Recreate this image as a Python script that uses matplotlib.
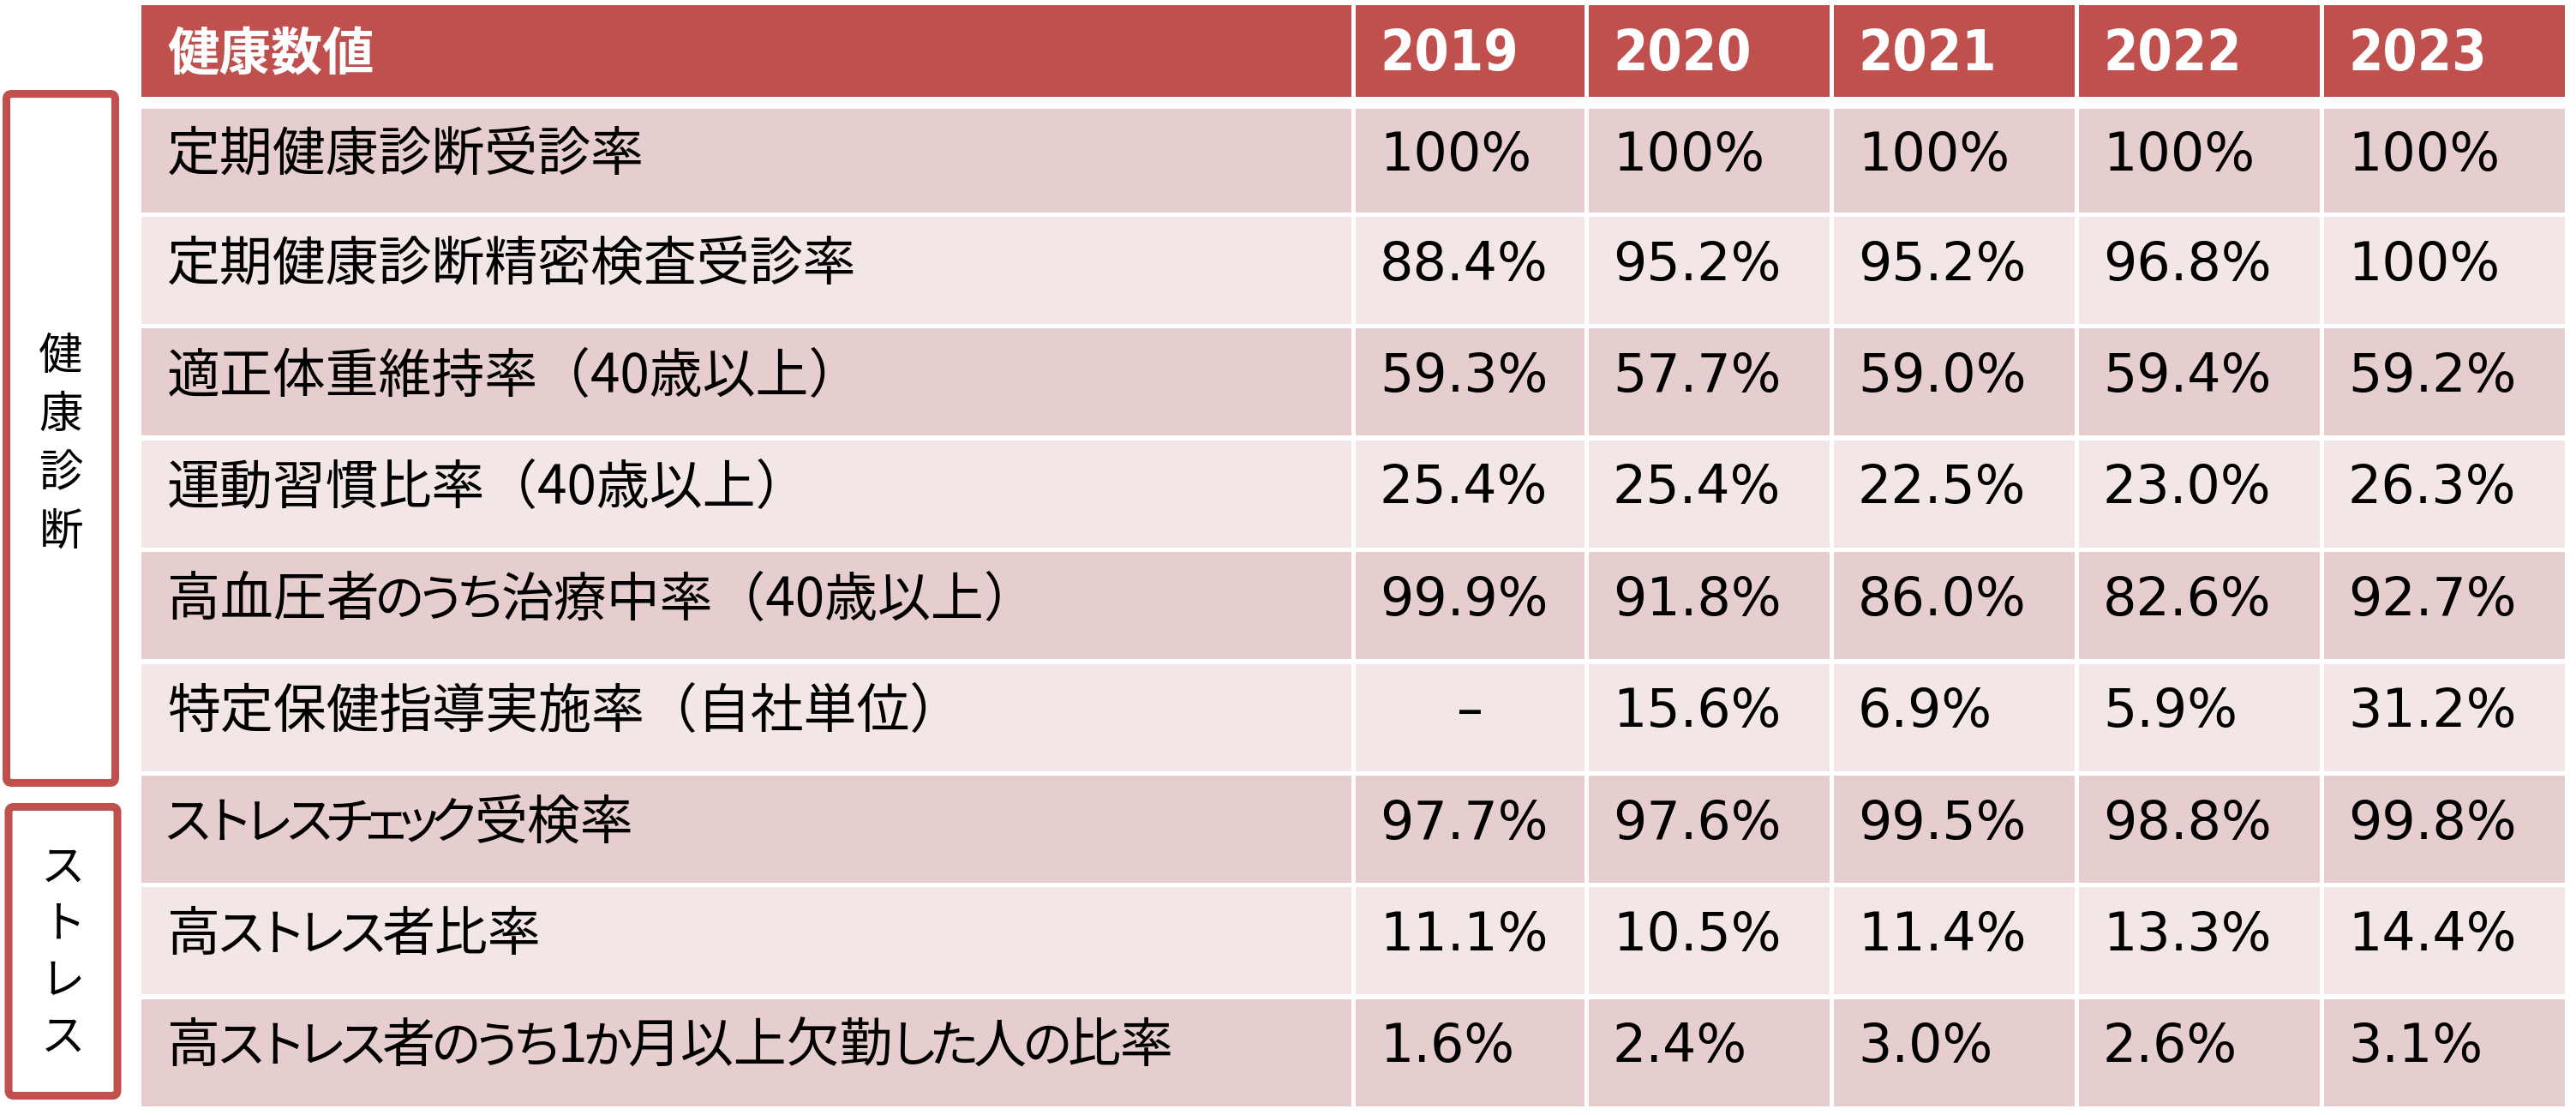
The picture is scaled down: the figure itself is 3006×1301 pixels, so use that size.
import matplotlib
matplotlib.use("Agg")
import matplotlib.pyplot as plt
from matplotlib.patches import Rectangle, FancyBboxPatch
from matplotlib.font_manager import FontProperties

# データ
header_label = "健康数値"
years = ["2019", "2020", "2021", "2022", "2023"]
items = [
    "定期健康診断受診率",
    "定期健康診断精密検査受診率",
    "適正体重維持率（40歳以上）",
    "運動習慣比率（40歳以上）",
    "高血圧者のうち治療中率（40歳以上）",
    "特定保健指導実施率（自社単位）",
    "ストレスチェック受検率",
    "高ストレス者比率",
    "高ストレス者のうち1か月以上欠勤した人の比率",
]
v2019 = [100, 88.4, 59.3, 25.4, 99.9, None, 97.7, 11.1, 1.6]
v2020 = [100, 95.2, 57.7, 25.4, 91.8, 15.6, 97.6, 10.5, 2.4]
v2021 = [100, 95.2, 59.0, 22.5, 86.0, 6.9, 99.5, 11.4, 3.0]
v2022 = [100, 96.8, 59.4, 23.0, 82.6, 5.9, 98.8, 13.3, 2.6]
v2023 = [100, 100, 59.2, 26.3, 92.7, 31.2, 99.8, 14.4, 3.1]
valores = [v2019, v2020, v2021, v2022, v2023]
grupos = [("健康診断", 0, 6), ("ストレス", 6, 9)]

ROJO = "#C0504D"
BANDA1 = "#E6CECE"
BANDA2 = "#F2E6E6"
JP = ["Noto Sans CJK JP", "DejaVu Sans"]
PEQ = "ぁぃぅぇぉっゃゅょァィゥェォッャュョ"


def fmt(v):
    if v is None:
        return "–"
    if v == 100:
        return "100%"
    return f"{v:.1f}%"


def es_kana(ch):
    return "\u3041" <= ch <= "\u30ff"


W, H = 3006, 1301
fig = plt.figure(figsize=(W / 100, H / 100), dpi=100)
ax = fig.add_axes([0, 0, 1, 1])
ax.set_xlim(0, W)
ax.set_ylim(H, 0)
ax.axis("off")
renderer = fig.canvas.get_renderer()

# columnas (px)
col_l = [165, 1582, 1854, 2140, 2426, 2712]
col_r = [1577, 1849, 2135, 2421, 2707, 2993]
row_top = [127] + [253 + i * 130.4 for i in range(8)]
row_h = [121] + [125] * 8
hdr_top, hdr_bot = 6, 113
fs = 44.6
prop_jp = FontProperties(family=JP, size=fs)
prop_kana = FontProperties(family=JP, size=fs * 0.95)
em = fs * 100 / 72


def texto_jp(x, y, s):
    # kana con espaciado proporcional, como en la tabla original
    trozo = ""
    for ch in s + "\0":
        if ch == "\0" or es_kana(ch):
            if trozo:
                ax.text(x, y, trozo, fontproperties=prop_jp, va="baseline", ha="left")
                w, _, _ = renderer.get_text_width_height_descent(trozo, prop_jp, ismath=False)
                x += w
                trozo = ""
            if ch == "\0":
                break
            adv = em * (0.6 if ch in PEQ else 0.765)
            ax.text(x + adv / 2, y, ch, fontproperties=prop_kana, va="baseline", ha="center")
            x += adv
        else:
            trozo += ch


# encabezado
for c in range(6):
    ax.add_patch(Rectangle((col_l[c], hdr_top), col_r[c] - col_l[c], hdr_bot - hdr_top,
                           facecolor=ROJO, edgecolor="none"))
ax.text(col_l[0] + 30, 82, header_label, color="white", fontsize=43.5, fontweight="bold",
        family=JP, va="baseline", ha="left")
for j, y in enumerate(years):
    ax.text(col_l[j + 1] + 28, 82, y, color="white", fontsize=46.5, fontweight="bold",
            family="DejaVu Sans", fontstretch="condensed", va="baseline", ha="left")

# filas
for i, item in enumerate(items):
    color = BANDA1 if i % 2 == 0 else BANDA2
    top = row_top[i]
    h = row_h[i]
    for c in range(6):
        ax.add_patch(Rectangle((col_l[c], top), col_r[c] - col_l[c], h,
                               facecolor=color, edgecolor="none"))
    base = top + h / 2 + 11
    texto_jp(col_l[0] + 30, base, item)
    for j in range(5):
        v = valores[j][i]
        s = fmt(v)
        if v is None:
            ax.text((col_l[j + 1] + col_r[j + 1]) / 2, base, s, fontsize=fs,
                    family="DejaVu Sans", va="baseline", ha="center")
        else:
            ax.text(col_l[j + 1] + 28, base, s, fontsize=fs,
                    family="DejaVu Sans", va="baseline", ha="left")

# cajas laterales
cajas = [(7.5, 109.5, 127, 804), (10, 941.5, 127, 337)]
for (nombre, a, b), (x0, y0, w, h) in zip(grupos, cajas):
    ax.add_patch(FancyBboxPatch((x0, y0), w, h, boxstyle="round,pad=0,rounding_size=6",
                                facecolor="white", edgecolor=ROJO, linewidth=6.5))
    cx = x0 + w / 2
    cy = y0 + h / 2 + (7 if a == 0 else 2)
    paso = 68 if a == 0 else 66
    n = len(nombre)
    for k, ch in enumerate(nombre):
        ax.text(cx, cy + (k - (n - 1) / 2) * paso, ch, fontsize=37, family=JP,
                va="center", ha="center")

fig.savefig("out.png", dpi=100)
